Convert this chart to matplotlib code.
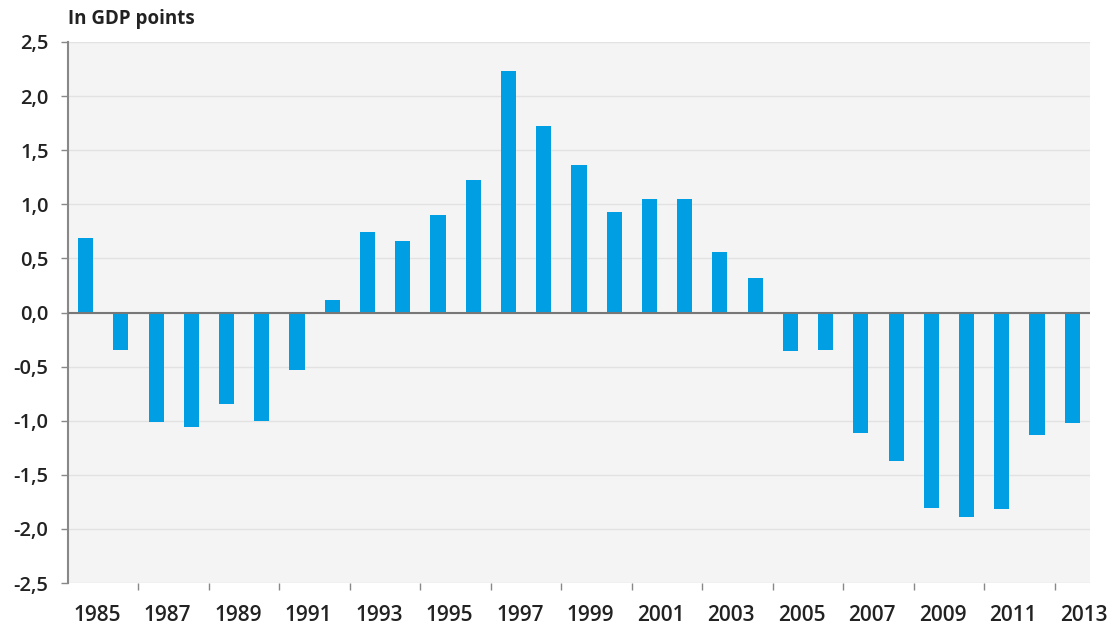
import matplotlib
matplotlib.use("Agg")
import matplotlib.pyplot as plt
import numpy as np

years = list(range(1985, 2014))
values = [0.69, -0.35, -1.01, -1.06, -0.85, -1.00, -0.53, 0.12, 0.74, 0.66,
          0.90, 1.22, 2.23, 1.72, 1.36, 0.93, 1.05, 1.05, 0.56, 0.32,
          -0.36, -0.35, -1.11, -1.37, -1.81, -1.89, -1.82, -1.13, -1.02]
label_years = list(range(1985, 2014, 2))
y_ticks = [-2.5, -2.0, -1.5, -1.0, -0.5, 0.0, 0.5, 1.0, 1.5, 2.0, 2.5]
title = "In GDP points"

plt.rcParams['font.family'] = ['Open Sans', 'DejaVu Sans']

fig = plt.figure(figsize=(11.11, 6.25), dpi=100)
ax = fig.add_axes([0.0612, 0.0672, 0.9198, 0.8656])
ax.set_facecolor('#f4f4f4')

ax.bar(years, values, width=0.43, color='#009fe3', zorder=3)

ax.set_xlim(1984.5, 2013.5)
ax.set_ylim(-2.5, 2.5)
ax.set_yticks(y_ticks)
ax.set_yticklabels([f"{v:.1f}".replace('.', ',') for v in y_ticks],
                   fontsize=14.5, fontweight='semibold', color='#222222')
ax.grid(axis='y', color='#e2e2e2', linewidth=1, zorder=0)
ax.axhline(0, color='#777777', linewidth=1.5, zorder=4)

# major ticks: boundaries between pairs of years
ax.set_xticks([y + 1.5 for y in label_years[:-1]])
ax.set_xticklabels([])
ax.set_xticks([y + 0.32 for y in label_years], minor=True)
ax.set_xticklabels([str(y) for y in label_years], minor=True,
                   fontsize=15, fontweight='semibold', color='#222222')
ax.tick_params(axis='x', which='major', length=5, color='#888888', width=1)
ax.tick_params(axis='x', which='minor', length=0, pad=16)
ax.tick_params(axis='y', length=5, color='#888888', width=1, pad=9)

for s in ['top', 'right', 'bottom']:
    ax.spines[s].set_visible(False)
ax.spines['left'].set_color('#888888')
ax.spines['left'].set_linewidth(1.5)

fig.text(0.0612, 0.953, title, fontsize=13.5, fontweight='bold', color='#222222',
         ha='left', va='bottom')

fig.savefig('out.png', dpi=100, facecolor='white')
